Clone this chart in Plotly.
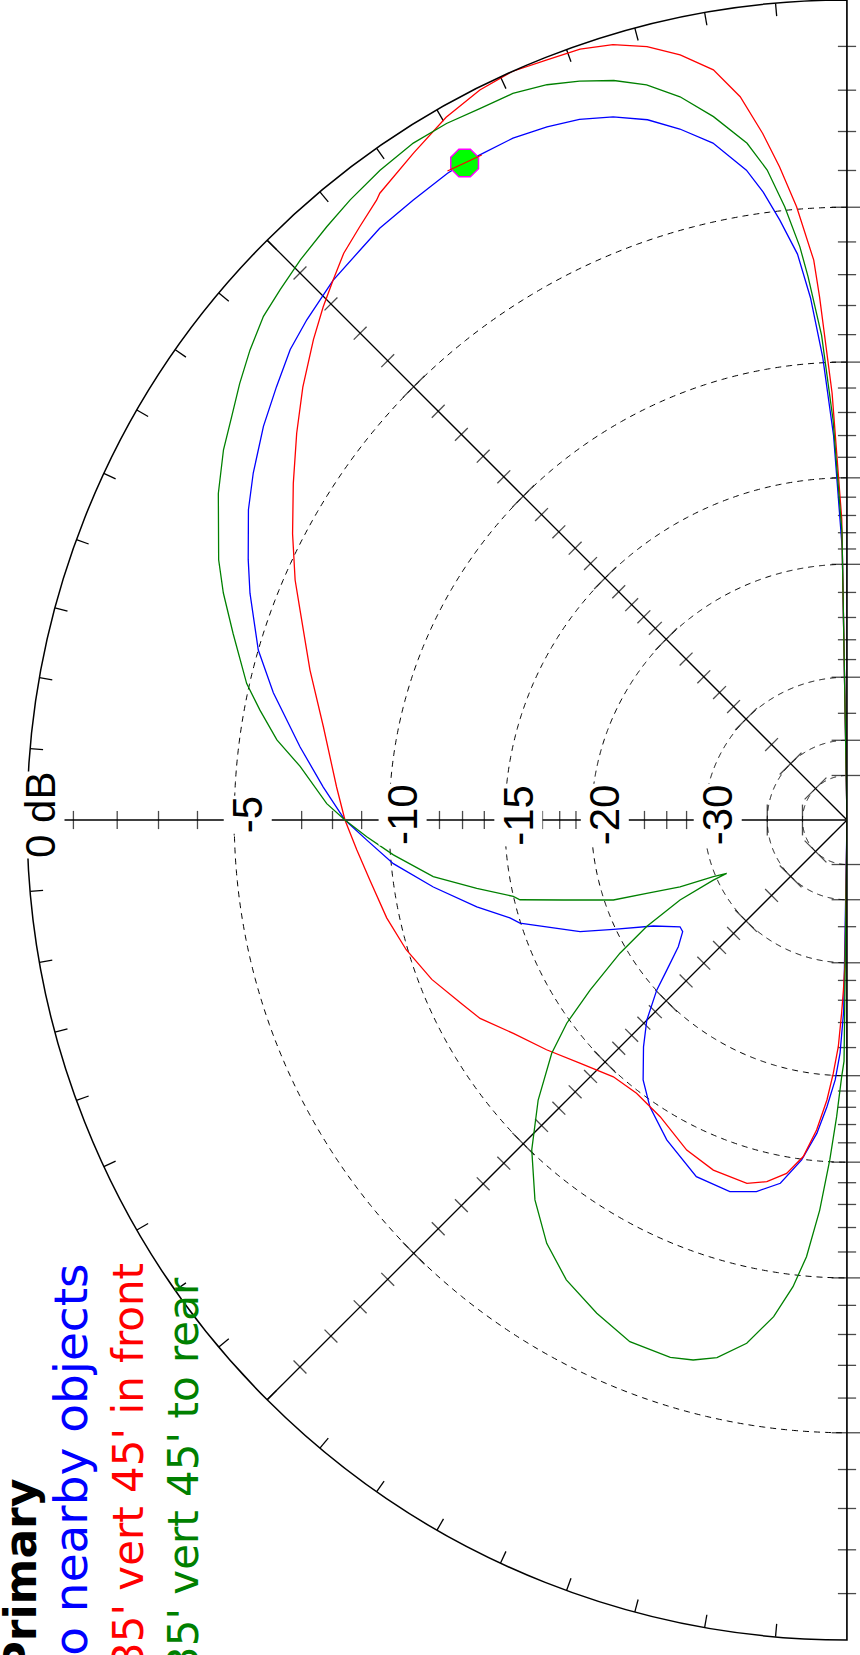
import numpy as np
import plotly.graph_objects as go

# Elevation-plane patterns: elevation angle (deg) and gain relative to overall max (dB).
# -999 marks the null on the ground plane at 0 and 180 degrees.
blue_elev = [0, 1, 2, 3, 4, 5, 6.4, 7.6, 8.8, 11.2, 13.6, 15.9, 18.4, 20.9, 23.4, 26.1, 28.9,
             30.2, 31.7, 35.0, 38.3, 40.5, 43.6, 47.2, 49.8, 52.8, 56.0, 59.7, 62.6, 66.5, 69.2,
             73.9, 77.5, 82.4, 86.4, 90.0, 92.4, 95.5, 99.2, 103.2, 106.2, 107.5, 112.7, 115.1,
             118.7, 122.6, 124.2, 126.9, 129.8, 131.8, 135.0, 138.1, 141.9, 145.5, 150.6, 157.1,
             162.5, 166.3, 169.6, 172.4, 174.5, 176.0, 177.4, 178.3, 179, 180]
blue_db = [-999, -19.0, -13.0, -9.8, -7.7, -6.3, -5.25, -4.43, -3.79, -2.96, -2.45, -2.04, -1.74,
           -1.53, -1.41, -1.32, -1.31, -1.29, -1.30, -1.38, -1.44, -1.54, -1.64, -1.85, -2.02,
           -2.32, -2.62, -3.02, -3.36, -3.91, -4.29, -5.0, -5.72, -6.8, -7.66, -8.42, -9.17,
           -10.08, -11.52, -13.19, -14.56, -14.96, -17.88, -19.85, -22.52, -24.37, -24.33, -23.3,
           -21.48, -20.03, -18.25, -16.99, -15.6, -14.71, -13.79, -12.88, -12.77, -13.09, -13.69,
           -14.96, -16.43, -17.99, -19.7, -21.6, -25.0, -999]

red_elev = [0, 1, 2, 3, 3.4, 4.7, 5.9, 7.0, 8.4, 10.1, 12.3, 14.5, 16.8, 19.1, 21.6, 24.1, 26.7,
            29.7, 33.0, 36.7, 37.2, 39.4, 41.6, 43.6, 45.6, 48.0, 51.5, 54.9, 58.7, 62.7, 66.5,
            69.0, 74.4, 79.9, 86.3, 90.0, 93.5, 97.2, 102.0, 106.4, 111.0, 115.5, 118.4, 122.6,
            127.4, 132.3, 137.7, 142.4, 147.8, 154.1, 159.1, 164.6, 167.5, 170.3, 172.6, 174.4,
            175.9, 176.9, 177.8, 178.4, 178.8, 179.2, 180]
red_db = [-999, -17.2, -11.2, -7.7, -6.52, -4.93, -3.81, -2.92, -1.97, -1.26, -0.79, -0.45, -0.21,
          -0.09, -0.06, 0.0, -0.06, -0.23, -0.52, -0.82, -0.90, -1.13, -1.35, -1.64, -1.92, -2.28,
          -2.83, -3.40, -4.04, -4.69, -5.31, -5.77, -6.62, -7.43, -8.10, -8.42, -8.80, -9.16,
          -9.53, -9.94, -10.5, -11.2, -11.6, -12.49, -13.28, -14.07, -14.75, -14.86, -14.58,
          -13.8, -13.44, -13.34, -13.64, -14.2, -15.14, -16.61, -18.4, -20.13, -22.05, -24.8,
          -27.0, -30.0, -999]

green_elev = [0, 1, 2, 3, 4.1, 4.7, 5.8, 7.0, 8.4, 10.75, 13.0, 15.25, 17.5, 19.9, 22.2, 24.7,
              27.3, 29.9, 32.65, 35.7, 38.7, 41.25, 44.3, 46.9, 49.2, 51.8, 54.3, 56.75, 59.3,
              62.55, 67.5, 70.0, 73.1, 77.2, 79.4, 82.0, 84.4, 88.2, 90.0, 92.0, 94.4, 97.8,
              100.45, 102.9, 103.7, 105.75, 108.9, 110.1, 111.8, 113.0, 113.9, 114.2, 115.6,
              118.0, 120.4, 123.5, 125.95, 128.3, 132.2, 136.3, 140.6, 144.65, 148.6, 153.1,
              157.4, 161.8, 164.1, 166.4, 169.15, 171.6, 173.4, 174.7, 176.0, 177.1, 178.0,
              178.8, 179.3, 180]
green_db = [-999, -18.0, -12.3, -9.0, -7.02, -6.09, -4.90, -3.86, -3.11, -2.33, -1.71, -1.26,
            -0.96, -0.73, -0.55, -0.43, -0.41, -0.35, -0.34, -0.42, -0.54, -0.66, -0.80, -0.94,
            -1.06, -1.31, -1.58, -1.86, -2.11, -2.51, -3.21, -3.63, -4.21, -4.92, -5.44, -6.07,
            -6.87, -7.80, -8.42, -9.17, -10.11, -11.58, -13.36, -14.99, -15.28, -17.56, -20.6,
            -23.11, -26.04, -29.71, -31.4, -29.55, -25.54, -22.05, -19.5, -16.8, -14.8, -13.37,
            -11.61, -10.06, -8.78, -7.85, -7.21, -6.76, -6.39, -6.37, -6.5, -6.76, -7.4, -8.42,
            -9.56, -10.74, -12.71, -15.09, -17.44, -19.9, -21.0, -999]

series_names = ["No nearby objects", "35' vert 45' in front", "35' vert 45' to rear"]
series_colors = ["#0000ff", "#ff0000", "#008000"]

# Cursor on the primary trace
cursor_elev = 30.2
cursor_db = -1.30

# Scale rings, labels and tick positions (dB)
ring_db = [-5, -10, -15, -20, -30, -40, -50]
label_db = [0, -5, -10, -15, -20, -30]
label_text = ["0 dB", "-5", "-10", "-15", "-20", "-30"]
tick_db = list(range(-1, -21, -1)) + [-22, -24, -26, -28, -30, -35, -40, -50]
axis_angles = [0, 45, 90, 135, 180]
rim_tick_angles = list(range(5, 180, 5))


def arrl(db):
    """ARRL log scale: radius shrinks by 0.89 for every 2 dB."""
    return 0.89 ** (-np.asarray(db, dtype=float) / 2.0)


W, H = 860, 1655
dom_x = [27 / W, 847 / W]
dom_y = [15 / H, 1.0]

fig = go.Figure()

# dashed dB rings
ring_theta = np.linspace(0, 180, 721)
for d in ring_db:
    fig.add_trace(go.Scatterpolar(
        r=np.full(ring_theta.size, arrl(d)), theta=ring_theta, mode="lines",
        line=dict(color="black", width=1, dash="6px,5px"), hoverinfo="skip"))

# radial axis lines (ground line plus 45 / 90 / 135 degrees)
for a in axis_angles:
    fig.add_trace(go.Scatterpolar(
        r=[0, 1], theta=[a, a], mode="lines", cliponaxis=False,
        line=dict(color="black", width=1.3), hoverinfo="skip"))

# inward ticks on the rim every 5 degrees
rim_r, rim_t = [], []
for a in rim_tick_angles:
    rim_r += [1.0, 1.0 - 13 / 820, None]
    rim_t += [a, a, None]
fig.add_trace(go.Scatterpolar(
    r=rim_r, theta=rim_t, mode="lines", line=dict(color="black", width=1.3),
    hoverinfo="skip"))

# dB ticks across each radial line
tk_r, tk_t, tk_ang, tk_size = [], [], [], []
for a in axis_angles:
    for d in tick_db:
        tk_r.append(float(arrl(d)))
        tk_t.append(a)
        tk_ang.append(-a)
        tk_size.append(22 if d in ring_db else 13)
fig.add_trace(go.Scatterpolar(
    r=tk_r, theta=tk_t, mode="markers", cliponaxis=False,
    marker=dict(symbol="line-ew", size=tk_size, angle=tk_ang,
                line=dict(color="black", width=1.3)),
    hoverinfo="skip"))

# pattern traces
for elev, db, name, col in zip([blue_elev, red_elev, green_elev],
                               [blue_db, red_db, green_db],
                               series_names, series_colors):
    fig.add_trace(go.Scatterpolar(
        r=arrl(db), theta=elev, mode="lines", name=name, cliponaxis=False,
        line=dict(color=col, width=1.3)))

# cursor marker
fig.add_trace(go.Scatterpolar(
    r=[float(arrl(cursor_db))], theta=[cursor_elev], mode="markers",
    marker=dict(symbol="octagon", size=30, color="#00ff00",
                line=dict(color="#ff00ff", width=1.5)),
    hoverinfo="skip"))
fig.add_trace(go.Scatterpolar(
    r=[float(arrl(cursor_db))], theta=[cursor_elev], mode="markers",
    marker=dict(symbol="line-ew", size=27, angle=-25,
                line=dict(color="#ff0000", width=1.3)),
    hoverinfo="skip"))

# dB labels along the 90 degree line
annotations = []
cy = 1 - 815 / H
for d, txt in zip(label_db, label_text):
    x = dom_x[1] - float(arrl(d)) * (dom_x[1] - dom_x[0]) + 13 / W
    annotations.append(dict(
        x=x, y=cy, xref="paper", yref="paper", text=txt, showarrow=False,
        textangle=-90, xanchor="center", yanchor="middle", bgcolor="white",
        borderpad=0,
        font=dict(family="Liberation Sans", size=42, color="black")))

# legend text block
legend_text = ["<b>Primary</b>"] + series_names
legend_colors = ["black"] + series_colors
legend_size = [44, 47, 42, 42]
legend_x = [20, 70, 128, 183]
legend_end = [1477, 1261, 1261, 1275]
for txt, col, sz, lx, ly in zip(legend_text, legend_colors, legend_size, legend_x, legend_end):
    annotations.append(dict(
        x=lx / W, y=1 - ly / H, xref="paper", yref="paper", text=txt, showarrow=False,
        textangle=-90, xanchor="center", yanchor="top",
        font=dict(family="DejaVu Sans", size=sz, color=col)))

fig.update_layout(
    width=W, height=H, margin=dict(l=0, r=0, t=0, b=0),
    paper_bgcolor="white", plot_bgcolor="white", showlegend=False,
    polar=dict(
        domain=dict(x=dom_x, y=dom_y), sector=[90, 270], bgcolor="white",
        angularaxis=dict(rotation=90, direction="counterclockwise", showline=True,
                         linecolor="black", linewidth=1.5, showgrid=False, ticks="",
                         showticklabels=False),
        radialaxis=dict(range=[0, 1], visible=False)),
    annotations=annotations)

fig.write_html("out.html")
